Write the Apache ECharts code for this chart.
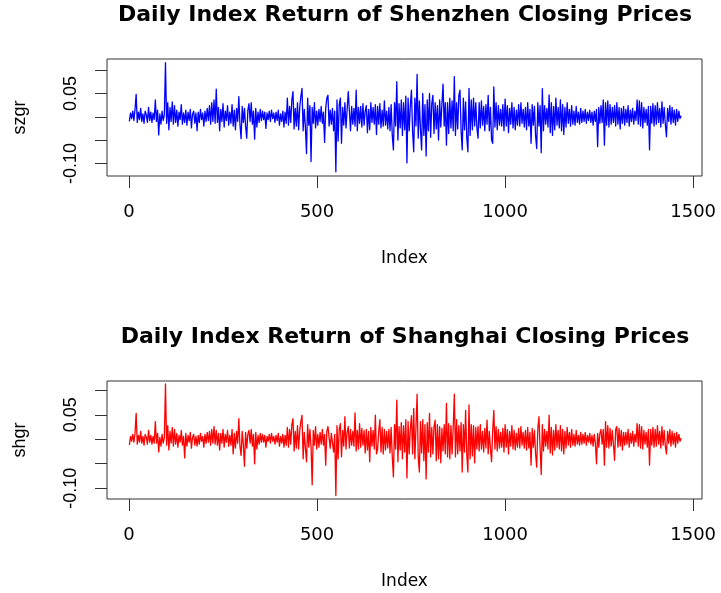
<!DOCTYPE html>
<html>
<head>
<meta charset="utf-8">
<script src="https://cdn.jsdelivr.net/npm/echarts@6.0.0/dist/echarts.min.js"></script>
<style>
  body { margin: 0; background: #fff; }
  #main { width: 721px; height: 593px; }
</style>
</head>
<body>
<div id="main"></div>
<script>
// 指数：每3天取一个点 (1, 4, 7, ...)
var step = 3;

// 深圳日收益率
var szgr = [
  -0.010, 0.008, -0.004, 0.012, -0.008, 0.016, 0.048, -0.012, 0.010, -0.006,
  0.018, -0.010, 0.006, -0.014, 0.012, 0.004, -0.012, 0.020, -0.008, 0.010,
  -0.012, 0.008, -0.006, 0.036, -0.010, 0.014, -0.039, 0.006, -0.016, 0.012,
  -0.008, 0.004, 0.116, -0.014, 0.030, -0.028, 0.020, -0.010, 0.032, -0.016,
  0.024, -0.012, 0.014, -0.020, 0.010, -0.006, 0.026, -0.016, 0.008, -0.012,
  0.014, -0.018, 0.010, -0.008, 0.016, -0.024, 0.006, 0.012, -0.014, 0.008,
  -0.030, 0.010, -0.012, 0.016, -0.006, 0.008, -0.020, 0.012, -0.010, 0.018,
  -0.008, 0.024, -0.016, 0.030, -0.010, 0.036, -0.014, 0.059, -0.012, 0.020,
  -0.030, 0.016, -0.010, 0.028, -0.022, 0.012, -0.008, 0.024, -0.018, 0.010,
  -0.014, 0.026, -0.020, 0.014, -0.028, 0.018, -0.010, 0.043, -0.016, -0.047,
  0.022, -0.012, 0.018, -0.020, -0.046, 0.014, 0.028, -0.010, 0.030, -0.016,
  0.012, -0.048, 0.018, -0.022, 0.010, -0.012, 0.016, -0.008, 0.012, -0.006,
  0.010, -0.025, 0.008, -0.006, 0.012, -0.010, 0.014, -0.004, 0.008, -0.012,
  0.010, -0.008, 0.014, -0.018, 0.006, -0.010, 0.012, -0.022, 0.010, -0.014,
  0.040, -0.018, 0.022, -0.012, 0.036, 0.054, -0.026, 0.018, -0.020, 0.030,
  -0.028, 0.020, 0.044, 0.061, -0.030, 0.016, -0.022, -0.079, 0.040, -0.018,
  0.024, -0.096, 0.020, -0.014, 0.030, -0.024, 0.012, -0.018, 0.016, -0.010,
  0.022, -0.014, 0.010, -0.055, 0.018, 0.040, 0.046, -0.020, 0.014, -0.016,
  0.018, -0.030, 0.012, -0.118, 0.036, -0.052, 0.026, 0.040, -0.057, 0.020,
  -0.018, 0.030, -0.024, 0.016, 0.054, 0.050, -0.030, 0.022, -0.016, 0.018,
  -0.020, 0.057, -0.030, 0.020, -0.014, 0.022, -0.022, 0.028, -0.018, 0.012,
  0.024, -0.034, 0.016, -0.028, 0.030, -0.012, 0.020, -0.016, 0.026, -0.038,
  0.022, -0.016, 0.028, -0.024, 0.014, -0.020, 0.034, -0.018, 0.012, -0.026,
  0.020, -0.030, 0.026, -0.040, -0.071, 0.030, -0.020, 0.075, -0.050, 0.028,
  -0.024, 0.036, -0.040, 0.030, -0.028, 0.044, -0.099, 0.040, -0.030, 0.024,
  0.057, -0.032, -0.075, 0.040, -0.020, 0.091, -0.046, 0.034, -0.028, -0.071,
  0.050, -0.040, 0.026, -0.084, 0.036, -0.030, 0.050, -0.044, 0.028, 0.046,
  -0.036, 0.030, -0.026, 0.024, -0.050, 0.036, -0.022, 0.028, 0.070, -0.020,
  0.030, -0.061, 0.030, -0.036, 0.040, -0.024, 0.034, -0.030, 0.086, -0.040,
  0.030, -0.026, 0.046, 0.057, -0.030, -0.071, 0.040, -0.028, 0.032, -0.044,
  -0.075, 0.061, -0.040, 0.036, -0.028, 0.040, -0.020, 0.030, -0.024, -0.046,
  0.030, -0.024, 0.034, -0.018, 0.022, -0.030, 0.026, -0.016, 0.046, -0.030,
  0.020, -0.050, -0.057, 0.064, -0.022, 0.030, -0.028, 0.024, -0.018, 0.016,
  -0.020, 0.026, -0.030, 0.038, -0.020, 0.024, -0.034, 0.018, -0.016, 0.030,
  -0.024, 0.020, -0.028, 0.014, -0.018, 0.026, -0.020, 0.030, -0.014, 0.016,
  -0.022, 0.020, -0.028, 0.030, -0.020, 0.016, -0.057, 0.026, -0.018, 0.022,
  -0.040, -0.068, 0.030, -0.020, 0.024, -0.077, 0.060, -0.030, 0.024, -0.016,
  0.018, -0.022, 0.047, -0.034, 0.030, -0.040, 0.022, -0.028, 0.040, -0.018,
  0.020, -0.024, 0.036, -0.030, 0.026, -0.038, 0.020, -0.022, 0.030, -0.014,
  0.016, -0.020, 0.024, -0.016, 0.012, -0.018, 0.022, -0.012, 0.010, -0.016,
  0.018, -0.012, 0.012, -0.010, 0.016, -0.014, 0.010, -0.008, 0.014, -0.012,
  0.010, -0.018, 0.012, -0.010, 0.016, -0.064, 0.020, -0.014, 0.024, -0.012,
  0.036, -0.061, 0.030, -0.018, 0.034, -0.022, 0.026, -0.016, 0.020, -0.012,
  0.024, -0.020, 0.030, -0.016, 0.020, -0.026, 0.018, -0.014, 0.022, -0.018,
  0.016, -0.012, 0.024, -0.020, 0.014, -0.010, 0.018, -0.016, 0.012, -0.008,
  0.036, -0.016, 0.034, -0.020, 0.030, -0.024, 0.020, -0.012, 0.016, -0.018,
  0.022, -0.071, 0.022, -0.014, 0.028, -0.020, 0.024, -0.016, 0.030, -0.012,
  0.018, -0.022, 0.032, -0.014, 0.020, -0.016, -0.043, 0.018, -0.010, 0.024,
  -0.016, 0.020, -0.012, 0.014, -0.018, 0.016, -0.010, 0.012, -0.004, 0.002
];

// 上海日收益率
var shgr = [
  -0.012, 0.006, -0.004, 0.010, -0.006, 0.012, 0.053, -0.010, 0.008, -0.006,
  0.016, -0.008, 0.006, -0.012, 0.010, 0.004, -0.010, 0.018, -0.006, 0.008,
  -0.010, 0.006, -0.008, 0.036, -0.008, 0.012, -0.026, 0.004, -0.014, 0.010,
  -0.008, 0.004, 0.113, -0.012, 0.028, -0.022, 0.016, -0.008, 0.024, -0.014,
  0.020, -0.010, 0.012, -0.016, 0.008, -0.006, 0.018, -0.012, 0.006, -0.038,
  0.012, -0.014, 0.008, -0.006, 0.014, -0.018, 0.004, 0.010, -0.012, 0.006,
  -0.014, 0.008, -0.010, 0.012, -0.004, 0.006, -0.016, 0.010, -0.008, 0.014,
  -0.006, 0.016, -0.012, 0.020, -0.008, 0.026, -0.010, 0.018, -0.012, 0.012,
  -0.022, 0.012, -0.008, 0.020, -0.016, 0.010, -0.006, 0.018, -0.014, 0.008,
  -0.012, 0.020, -0.030, 0.012, -0.018, 0.016, -0.008, 0.042, -0.014, -0.033,
  0.016, -0.010, -0.055, 0.014, -0.018, 0.010, 0.018, -0.008, 0.020, -0.014,
  0.010, -0.050, 0.014, -0.020, 0.008, -0.010, 0.012, -0.006, 0.010, -0.006,
  0.008, -0.016, 0.006, -0.004, 0.010, -0.008, 0.012, -0.004, 0.006, -0.010,
  0.008, -0.006, 0.012, -0.014, 0.006, -0.008, 0.010, -0.016, 0.008, -0.012,
  0.024, -0.016, 0.020, -0.010, 0.030, 0.042, -0.024, 0.016, -0.018, 0.028,
  -0.020, 0.018, 0.036, 0.049, -0.040, 0.014, -0.018, -0.046, 0.030, -0.016,
  0.020, -0.014, -0.093, 0.018, -0.012, 0.026, -0.020, 0.010, -0.016, 0.014,
  -0.010, 0.020, -0.012, 0.010, -0.053, 0.016, 0.026, 0.030, -0.018, 0.012,
  0.016, -0.026, 0.010, -0.115, 0.028, -0.040, 0.020, 0.032, -0.036, 0.018,
  -0.014, 0.046, -0.020, 0.014, 0.026, -0.018, 0.020, -0.012, 0.016, -0.014,
  0.054, -0.024, 0.018, -0.020, 0.032, -0.016, 0.022, -0.012, 0.018, -0.028,
  0.020, -0.022, 0.016, -0.046, 0.024, -0.014, 0.018, -0.020, 0.049, -0.030,
  -0.020, 0.016, 0.040, -0.026, 0.024, -0.030, 0.020, -0.022, 0.016, -0.018,
  0.020, -0.028, 0.024, -0.036, -0.077, 0.030, -0.020, 0.080, -0.046, 0.026,
  -0.022, 0.034, -0.040, 0.028, -0.026, 0.040, -0.079, 0.036, -0.030, 0.022,
  0.048, -0.030, 0.063, -0.040, 0.024, 0.092, -0.036, -0.067, 0.036, -0.028,
  0.040, -0.044, 0.030, -0.081, 0.034, -0.026, 0.053, -0.036, 0.024, -0.030,
  0.026, 0.039, -0.044, 0.030, -0.040, 0.026, -0.048, 0.022, -0.024, 0.030,
  -0.030, 0.073, -0.036, 0.032, -0.040, 0.028, -0.030, 0.024, 0.092, -0.036,
  0.040, -0.030, 0.028, -0.024, 0.034, -0.067, 0.030, -0.026, 0.059, -0.030,
  -0.067, 0.070, -0.040, 0.030, -0.034, 0.028, -0.048, 0.024, -0.020, 0.026,
  -0.024, 0.030, -0.020, 0.016, -0.026, 0.022, -0.018, 0.039, -0.030, 0.016,
  -0.020, -0.046, 0.018, 0.059, -0.020, 0.026, -0.024, 0.020, -0.018, 0.014,
  -0.016, 0.022, -0.026, 0.030, -0.016, 0.020, -0.030, 0.016, -0.014, 0.028,
  -0.020, 0.018, -0.022, 0.012, -0.016, 0.022, -0.018, 0.026, -0.012, 0.014,
  -0.018, 0.018, -0.022, 0.024, -0.018, 0.014, -0.053, 0.022, -0.016, 0.018,
  -0.030, -0.057, 0.022, 0.046, -0.018, -0.072, 0.030, -0.024, 0.020, -0.014,
  0.016, -0.020, 0.049, -0.028, 0.024, -0.032, 0.018, -0.022, 0.030, -0.016,
  0.018, -0.020, 0.028, -0.024, 0.020, -0.030, 0.016, -0.018, 0.024, -0.012,
  0.014, -0.016, 0.020, -0.012, 0.010, -0.014, 0.018, -0.010, 0.008, -0.012,
  0.014, -0.010, 0.010, -0.008, 0.014, -0.012, 0.008, -0.006, 0.012, -0.010,
  0.008, -0.014, 0.010, -0.008, -0.050, 0.012, -0.016, 0.012, 0.020, -0.010,
  0.020, -0.053, 0.036, -0.016, 0.028, -0.018, 0.022, -0.014, 0.018, -0.010,
  -0.043, 0.020, 0.026, -0.016, 0.022, -0.014, 0.018, -0.022, 0.014, -0.012,
  0.014, -0.010, 0.020, -0.016, 0.012, -0.008, 0.016, -0.014, 0.010, -0.006,
  0.032, -0.014, 0.030, -0.018, 0.026, -0.020, 0.018, -0.010, 0.014, -0.016,
  0.020, -0.053, 0.020, -0.012, 0.024, -0.016, 0.020, -0.014, 0.028, -0.010,
  0.016, -0.018, 0.026, -0.012, 0.018, -0.014, -0.030, 0.016, -0.008, 0.020,
  -0.014, 0.016, -0.010, 0.012, -0.016, 0.014, -0.008, 0.010, -0.004, 0.002
];

// 刻度
var xTicks = [0, 500, 1000, 1500];
var yTicks = [-0.10, -0.05, 0, 0.05, 0.10];
var yLabels = [-0.10, 0.05];

function toPairs(arr) {
  return arr.map(function (v, i) { return [1 + i * step, v]; });
}

var chart = echarts.init(document.getElementById('main'));

var lineCol = '#333';
var txtCol = '#000';

function makeX(gi) {
  return {
    type: 'value', gridIndex: gi, min: -58.5, max: 1523.5, position: 'bottom',
    name: 'Index', nameLocation: 'middle', nameGap: 74,
    nameTextStyle: { fontFamily: 'DejaVu Sans', fontSize: 17, color: txtCol },
    axisLine: { show: false, onZero: false },
    splitLine: { show: false },
    axisTick: { customValues: xTicks, length: 12, lineStyle: { color: lineCol } },
    axisLabel: {
      customValues: xTicks, margin: 27, fontFamily: 'DejaVu Sans', fontSize: 18, color: txtCol,
      formatter: function (v) { return String(v); }
    }
  };
}

function makeY(gi, name, min, max) {
  return {
    type: 'value', gridIndex: gi, min: min, max: max, position: 'left',
    name: name, nameLocation: 'middle', nameGap: 78,
    nameTextStyle: { fontFamily: 'Liberation Sans', fontSize: 18, color: txtCol },
    axisLine: { show: false, onZero: false },
    splitLine: { show: false },
    axisTick: { customValues: yTicks, length: 12, lineStyle: { color: lineCol } },
    axisLabel: {
      customValues: yLabels, rotate: 90, margin: 27,
      fontFamily: 'Liberation Sans', fontSize: 18, color: txtCol,
      formatter: function (v) { return v.toFixed(2); }
    }
  };
}

var titleStyle = { fontFamily: 'DejaVu Sans', fontWeight: 'bold', fontSize: 22, color: txtCol };

var option = {
  backgroundColor: '#fff',
  animation: false,
  title: [
    { text: 'Daily Index Return of Shenzhen Closing Prices', left: 405, top: 4, padding: 0, textAlign: 'center', textStyle: titleStyle },
    { text: 'Daily Index Return of Shanghai Closing Prices', left: 405, top: 326, padding: 0, textAlign: 'center', textStyle: titleStyle }
  ],
  grid: [
    { left: 107, top: 59, width: 595, height: 117, show: true, borderColor: lineCol, borderWidth: 1 },
    { left: 107, top: 381, width: 595, height: 118, show: true, borderColor: lineCol, borderWidth: 1 }
  ],
  xAxis: [makeX(0), makeX(1)],
  yAxis: [makeY(0, 'szgr', -0.127, 0.1238), makeY(1, 'shgr', -0.122, 0.119)],
  series: [
    {
      name: 'szgr', type: 'line', xAxisIndex: 0, yAxisIndex: 0,
      data: toPairs(szgr), symbol: 'none',
      lineStyle: { color: '#0000ff', width: 1.3, join: 'round' }
    },
    {
      name: 'shgr', type: 'line', xAxisIndex: 1, yAxisIndex: 1,
      data: toPairs(shgr), symbol: 'none',
      lineStyle: { color: '#ff0000', width: 1.3, join: 'round' }
    }
  ]
};

chart.setOption(option);
</script>
</body>
</html>
